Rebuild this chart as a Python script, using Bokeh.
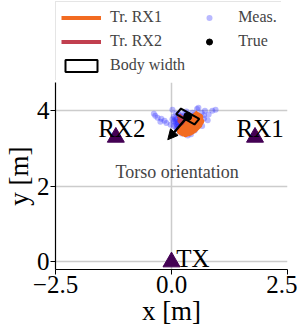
import numpy as np
from bokeh.plotting import figure
from bokeh.layouts import column
from bokeh.models import (Legend, LegendItem, FixedTicker, Arrow, NormalHead,
                          Range1d, Label)
from bokeh.embed import file_html
from bokeh.resources import INLINE
from bokeh.core.properties import value

# ---------------- data ----------------
anchor_names = ["TX", "RX1", "RX2"]
anchor_x = [0.0, 1.8, -1.2]
anchor_y = [0.0, 3.3, 3.3]

meas_x = [-0.38, -0.35, -0.30, -0.22, -0.24, -0.15, -0.11, -0.02, 0.02, 0.05,
          0.08, 0.10, 0.12, 0.15, 0.18, 0.20, 0.22, 0.25, 0.28, 0.30,
          0.12, 0.15, 0.18, 0.22, 0.25, 0.30, 0.35, 0.40, 0.45, 0.50,
          0.55, 0.60, 0.65, 0.70, 0.62, 0.58, 0.66, 0.72, 0.80, 0.88,
          0.95, 0.78, 0.70, 0.50, 0.42, 0.35, 0.28, 0.20, 0.10, 0.05,
          0.32, 0.45, 0.55, 0.15, 0.25,
          0.05, 0.10, 0.15, 0.20, 0.25, 0.30, 0.35, 0.40, 0.08, 0.14,
          0.22, 0.28, 0.34, 0.18, 0.26, 0.12, 0.38, 0.44, 0.02, 0.30,
          0.20, 0.10, 0.36, 0.48, 0.16]
meas_y = [3.92, 3.87, 3.82, 3.79, 3.71, 3.74, 3.68, 3.63, 4.03, 3.85,
          3.80, 3.70, 3.62, 3.90, 3.75, 3.55, 3.85, 3.68, 3.95, 3.60,
          3.78, 3.50, 3.45, 3.40, 3.72, 3.83, 3.65, 3.55, 3.95, 3.90,
          4.05, 3.85, 3.95, 3.80, 3.70, 4.08, 3.60, 4.00, 3.90, 4.00,
          4.03, 3.75, 3.88, 3.48, 3.38, 3.35, 3.42, 3.58, 3.92, 3.72,
          3.98, 3.75, 3.62, 3.66, 3.52,
          3.60, 3.65, 3.58, 3.62, 3.55, 3.50, 3.58, 3.62, 3.75, 3.70,
          3.66, 3.78, 3.72, 3.82, 3.86, 3.52, 3.80, 3.68, 3.78, 3.45,
          3.48, 3.56, 3.90, 3.85, 3.92]

tr1_x = [0.58, 0.52, 0.44, 0.36, 0.28, 0.20, 0.18, 0.26, 0.34, 0.42, 0.50, 0.58,
         0.64, 0.56, 0.48, 0.40, 0.32, 0.24, 0.30, 0.40, 0.50, 0.60, 0.62, 0.54, 0.46]
tr1_y = [3.95, 3.88, 3.80, 3.72, 3.64, 3.55, 3.45, 3.40, 3.44, 3.48, 3.52, 3.60,
         3.72, 3.78, 3.70, 3.62, 3.54, 3.46, 3.38, 3.42, 3.50, 3.62, 3.84, 3.90, 3.82]

tr2_x = [0.15, 0.20, 0.25, 0.22, 0.18, 0.24, 0.30]
tr2_y = [3.88, 3.82, 3.75, 3.68, 3.74, 3.80, 3.72]

true_x = [0.35]
true_y = [3.85]
torso_orientation_deg = 235.0
torso_arrow_len = 0.75
body_width = 0.48
body_depth = 0.18

x_ticks = [-2.5, 0.0, 2.5]
x_tick_labels = ["\u22122.5", "0.0", "2.5"]
y_ticks = [0, 2, 4]
y_tick_labels = ["0", "2", "4"]

legend_labels = ["Tr. RX1", "Tr. RX2", "Body width", "Meas.", "True"]

# ---------------- style ----------------
FONT = "Liberation Serif"
C_ANCHOR = "#440154"
C_TR1 = "#f26b21"
C_TR2 = "#c13f4f"
C_MEAS = "#2b2bff"
MEAS_STYLE = dict(size=6, color=C_MEAS, alpha=0.33, line_color=None)
TR1_STYLE = dict(line_color=C_TR1, line_width=6, line_join="round")
TR2_STYLE = dict(line_color=C_TR2, line_width=5, line_join="round")
BODY_STYLE = dict(fill_alpha=0, line_color="black", line_width=2)
TRUE_STYLE = dict(size=8, color="black")

p = figure(frame_width=232, frame_height=187, x_range=Range1d(-2.5, 2.5),
           y_range=Range1d(-0.2, 4.75), output_backend="svg",
           toolbar_location=None, min_border_left=45, min_border_right=10,
           min_border_top=2, min_border_bottom=58)
p.outline_line_color = None

p.xaxis.ticker = FixedTicker(ticks=x_ticks)
p.yaxis.ticker = FixedTicker(ticks=y_ticks)
p.xaxis.major_label_overrides = dict(zip(x_ticks, x_tick_labels))
p.yaxis.major_label_overrides = dict(zip(y_ticks, y_tick_labels))
p.xaxis.axis_label = "x [m]"
p.yaxis.axis_label = "y [m]"
for ax in (p.xaxis, p.yaxis):
    ax.axis_label_text_font = FONT
    ax.axis_label_text_font_style = "normal"
    ax.axis_label_text_font_size = "27px"
    ax.major_label_text_font = FONT
    ax.major_label_text_font_size = "25px"
    ax.major_label_text_color = "black"
    ax.axis_label_text_color = "black"
    ax.axis_line_color = "black"
    ax.axis_line_width = 1.2
    ax.major_tick_line_color = "black"
    ax.major_tick_in = 0
    ax.major_tick_out = 5
    ax.minor_tick_line_color = None
    ax.major_label_standoff = 1
    ax.axis_label_standoff = 0
p.yaxis.major_label_orientation = "horizontal"
p.grid.grid_line_color = "#cccccc"
p.grid.grid_line_width = 1.5

# measurements
p.scatter(meas_x, meas_y, **MEAS_STYLE)
# trajectories
p.line(tr1_x, tr1_y, **TR1_STYLE)
p.line(tr2_x, tr2_y, **TR2_STYLE)

# body rectangle (computed from center, orientation and size)
a = np.deg2rad(torso_orientation_deg)
u = np.array([np.cos(a), np.sin(a)])
v = np.array([-np.sin(a), np.cos(a)])
c = np.array([true_x[0], true_y[0]])
corners = [c + v * body_width / 2 + u * body_depth / 2,
           c - v * body_width / 2 + u * body_depth / 2,
           c - v * body_width / 2 - u * body_depth / 2,
           c + v * body_width / 2 - u * body_depth / 2]
body_xs = [q[0] for q in corners]
body_ys = [q[1] for q in corners]
p.patch(body_xs, body_ys, **BODY_STYLE)

p.scatter(true_x, true_y, **TRUE_STYLE)

p.add_layout(Arrow(end=NormalHead(size=10, fill_color="black", line_color="black"),
                   x_start=true_x[0], y_start=true_y[0],
                   x_end=true_x[0] + torso_arrow_len * u[0],
                   y_end=true_y[0] + torso_arrow_len * u[1],
                   line_color="black", line_width=2.5))

# anchors
p.scatter(anchor_x, anchor_y, marker="triangle", size=17, color=C_ANCHOR)
lab_dx = {"TX": 0.1, "RX1": -0.4, "RX2": -0.38}
lab_dy = {"TX": 0.1, "RX1": 0.23, "RX2": 0.23}
p.text([x + lab_dx[n] for x, n in zip(anchor_x, anchor_names)],
       [y + lab_dy[n] for y, n in zip(anchor_y, anchor_names)],
       text=anchor_names, text_font=value(FONT), text_font_size="25px",
       text_baseline="alphabetic", text_align="left", text_color="black")

p.add_layout(Label(x=0.12, y=2.37, text="Torso orientation", text_font=FONT,
                   text_font_size="18px", text_align="center",
                   text_baseline="alphabetic"))

# ---------------- legend figure ----------------
# the same data is drawn outside this figure's visible range, so only the
# legend entries show
lf = figure(width=291, height=80, x_range=Range1d(100, 101), y_range=Range1d(100, 101),
            output_backend="svg", toolbar_location=None, min_border=0,
            min_border_left=44, min_border_top=1)
lf.axis.visible = False
lf.grid.visible = False
lf.outline_line_color = None
g_tr1 = lf.line(tr1_x, tr1_y, **dict(TR1_STYLE, line_width=4))
g_tr2 = lf.line(tr2_x, tr2_y, **dict(TR2_STYLE, line_width=4))
g_body = lf.patch(body_xs, body_ys, **BODY_STYLE)
g_meas = lf.scatter(meas_x, meas_y, **MEAS_STYLE)
g_true = lf.scatter(true_x, true_y, **TRUE_STYLE)
legend = Legend(items=[LegendItem(label=lab, renderers=[r]) for lab, r in
                       zip(legend_labels, [g_tr1, g_tr2, g_body, g_meas, g_true])],
                location="top_left", orientation="vertical", nrows=3,
                margin=0, padding=5, spacing=4, glyph_width=40, glyph_height=15,
                label_height=20, label_standoff=9, label_text_font=FONT,
                label_text_font_size="16px", border_line_color="#cccccc",
                border_line_width=1, background_fill_alpha=1)
lf.add_layout(legend, "center")

layout = column(lf, p, spacing=0)
open("out.html", "w").write(file_html(layout, INLINE))
